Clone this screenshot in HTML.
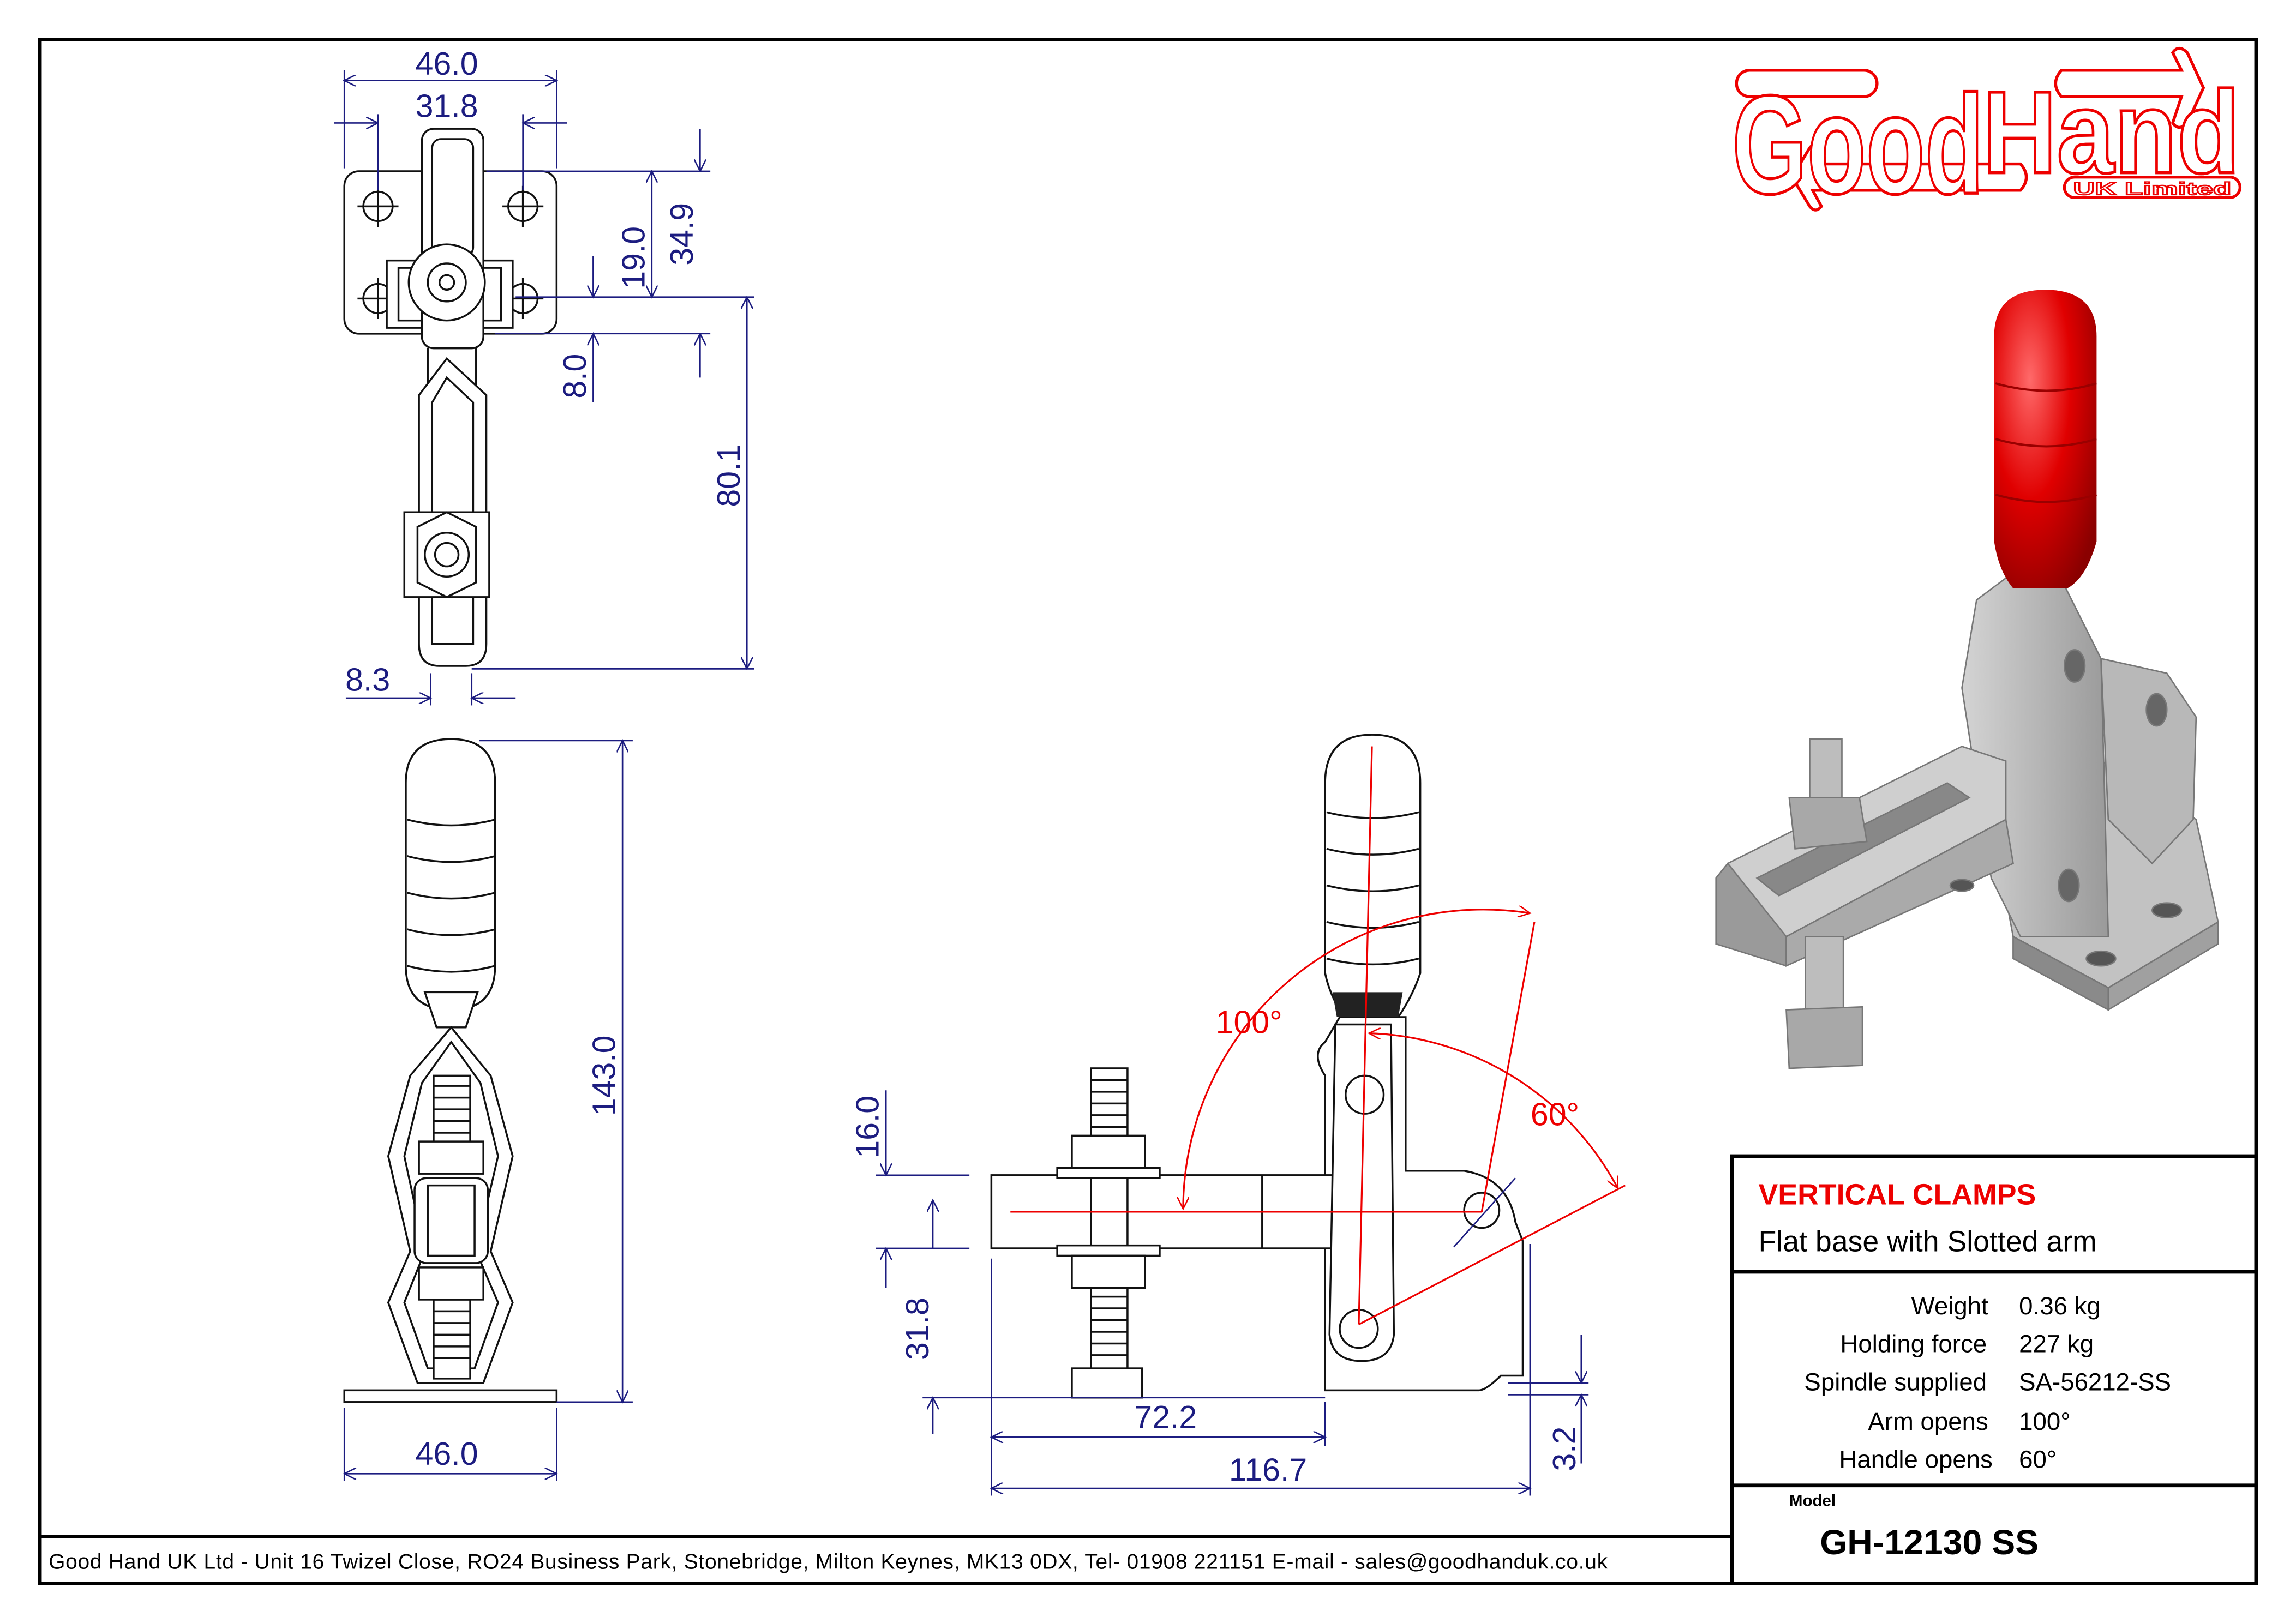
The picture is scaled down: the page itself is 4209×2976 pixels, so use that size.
<!DOCTYPE html>
<html><head><meta charset="utf-8"><style>
html,body{margin:0;padding:0;background:#fff}
svg{display:block}
text{font-family:"Liberation Sans",sans-serif}
.d{fill:#1c1c80;font-size:22px}
.dl{stroke:#1c1c80;stroke-width:1;fill:none}
.k{stroke:#111;stroke-width:1.3;fill:none}
.kf{stroke:#111;stroke-width:1.3;fill:#fff}
.r{stroke:#e00;stroke-width:1.2;fill:none}
</style></head><body>
<svg width="4209" height="2976" viewBox="0 0 1568 1109" xmlns="http://www.w3.org/2000/svg">
<defs>
<marker id="a" viewBox="0 0 10 10" refX="10" refY="5" markerWidth="14" markerHeight="8" orient="auto-start-reverse" markerUnits="userSpaceOnUse"><path d="M0,0 L10,5 L0,10" fill="none" stroke="#1c1c80" stroke-width="1.2"/></marker>
<marker id="ar" viewBox="0 0 10 10" refX="10" refY="5" markerWidth="14" markerHeight="8" orient="auto-start-reverse" markerUnits="userSpaceOnUse"><path d="M0,0 L10,5 L0,10" fill="none" stroke="#e00" stroke-width="1.2"/></marker>
<linearGradient id="g" x1="0" x2="1"><stop offset="0" stop-color="#d4d4d4"/><stop offset="1" stop-color="#9a9a9a"/></linearGradient>
<radialGradient id="rg" cx="0.35" cy="0.3" r="0.8"><stop offset="0" stop-color="#ff6a6a"/><stop offset="0.5" stop-color="#e00000"/><stop offset="1" stop-color="#8a0000"/></radialGradient>
</defs>
<rect width="1568" height="1109" fill="#fff"/>
<rect x="27" y="27" width="1514" height="1055" fill="none" stroke="#000" stroke-width="2.5"/>
<line x1="27" y1="1050" x2="1183" y2="1050" stroke="#000" stroke-width="2"/>
<rect x="1183" y="790" width="358" height="292" fill="none" stroke="#000" stroke-width="2.5"/>
<line x1="1183" y1="869" x2="1541" y2="869" stroke="#000" stroke-width="2.5"/>
<line x1="1183" y1="1015" x2="1541" y2="1015" stroke="#000" stroke-width="2.5"/>
<text x="33" y="1072" font-size="14.5" textLength="1065" lengthAdjust="spacing">Good Hand UK Ltd  - Unit 16 Twizel Close, RO24 Business Park, Stonebridge, Milton Keynes, MK13 0DX,  Tel- 01908 221151  E-mail - sales@goodhanduk.co.uk</text>
<text x="1201" y="823" font-size="20" font-weight="bold" fill="#e00">VERTICAL CLAMPS</text>
<text x="1201" y="855" font-size="20">Flat base with Slotted arm</text>
<g font-size="17">
<text x="1358" y="898" text-anchor="end">Weight</text><text x="1379" y="898">0.36 kg</text>
<text x="1357" y="924" text-anchor="end">Holding force</text><text x="1379" y="924">227 kg</text>
<text x="1357" y="950" text-anchor="end">Spindle supplied</text><text x="1379" y="950">SA-56212-SS</text>
<text x="1358" y="977" text-anchor="end">Arm opens</text><text x="1379" y="977">100°</text>
<text x="1361" y="1003" text-anchor="end">Handle opens</text><text x="1379" y="1003">60°</text>
</g>
<text x="1222" y="1029" font-size="11" font-weight="bold">Model</text>
<text x="1243" y="1062" font-size="24" font-weight="bold">GH-12130 SS</text>
<!-- logo -->
<g fill="#fff" stroke="#e00" stroke-width="2">
<rect x="1186" y="48" width="96" height="18" rx="9"/>
<path d="M1408,48 H1490 L1484,36 Q1488,30 1494,36 L1505,60 L1494,84 Q1488,90 1484,84 L1490,66 H1408 Q1400,57 1408,48Z"/>
<path d="M1238,112 H1380 Q1388,121 1380,130 H1238 L1244,141 Q1240,146 1236,141 L1224,121 L1236,101 Q1240,96 1244,101Z"/>
</g>
<text x="1183" y="132" font-size="96" font-weight="bold" fill="#fff" stroke="#e00" stroke-width="2" textLength="172" lengthAdjust="spacingAndGlyphs">Good</text>
<text x="1354" y="118" font-size="80" font-weight="bold" fill="#fff" stroke="#e00" stroke-width="2" textLength="176" lengthAdjust="spacingAndGlyphs">Hand</text>
<rect x="1410" y="121" width="120" height="14" rx="7" fill="#fff" stroke="#e00" stroke-width="2"/>
<text x="1416" y="133" font-size="12" font-weight="bold" fill="#fff" stroke="#e00" stroke-width="0.8" textLength="108" lengthAdjust="spacingAndGlyphs">UK Limited</text>

<!-- TOP VIEW -->
<g>
<rect x="235" y="117" width="145" height="111" rx="10" class="kf"/>
<g class="k">
<circle cx="258" cy="141" r="10"/><circle cx="357" cy="141" r="10"/><circle cx="258" cy="204" r="10"/><circle cx="357" cy="204" r="10"/>
<path d="M244,141h28M258,127v28M343,141h28M357,127v28M244,204h28M258,190v28M343,204h28M357,190v28"/>
</g>
<rect x="264" y="178" width="86" height="46" class="kf"/>
<rect x="272" y="183" width="70" height="36" class="kf"/>
<rect x="288" y="88" width="42" height="150" rx="8" class="kf"/>
<rect x="295" y="95" width="28" height="80" rx="6" class="k"/>
<circle cx="305" cy="193" r="26" class="kf"/>
<circle cx="305" cy="193" r="13" class="k"/><circle cx="305" cy="193" r="5" class="k"/>
<path d="M292,238 L292,272 L308,250 L325,272 L325,238" class="k"/>
<path d="M286,270 L305,245 L332,270 L332,440 Q332,455 318,455 L300,455 Q286,455 286,440Z" class="kf"/>
<path d="M295,275 L305,258 L323,275 L323,440 L295,440Z" class="k"/>
<rect x="276" y="350" width="58" height="58" class="kf"/>
<path d="M285,360 L305,350 L325,360 L325,398 L305,408 L285,398Z" class="k"/>
<circle cx="305" cy="379" r="15" class="kf"/><circle cx="305" cy="379" r="8" class="k"/>
</g>
<g class="dl">
<line x1="235" y1="48" x2="235" y2="115"/><line x1="380" y1="48" x2="380" y2="115"/>
<line x1="235" y1="55" x2="380" y2="55" marker-start="url(#a)" marker-end="url(#a)"/>
<line x1="258" y1="78" x2="258" y2="130"/><line x1="357" y1="78" x2="357" y2="130"/>
<line x1="228" y1="84" x2="258" y2="84" marker-end="url(#a)"/><line x1="387" y1="84" x2="357" y2="84" marker-end="url(#a)"/>
<line x1="332" y1="117" x2="485" y2="117"/><line x1="352" y1="203" x2="515" y2="203"/><line x1="338" y1="228" x2="485" y2="228"/>
<line x1="478" y1="88" x2="478" y2="117" marker-end="url(#a)"/><line x1="478" y1="258" x2="478" y2="228" marker-end="url(#a)"/>
<line x1="445" y1="117" x2="445" y2="203" marker-start="url(#a)" marker-end="url(#a)"/>
<line x1="405" y1="175" x2="405" y2="203" marker-end="url(#a)"/><line x1="405" y1="275" x2="405" y2="228" marker-end="url(#a)"/>
<line x1="510" y1="203" x2="510" y2="457" marker-start="url(#a)" marker-end="url(#a)"/>
<line x1="322" y1="457" x2="515" y2="457"/>
<line x1="294" y1="460" x2="294" y2="482"/><line x1="322" y1="460" x2="322" y2="482"/>
<line x1="236" y1="477" x2="294" y2="477" marker-end="url(#a)"/><line x1="352" y1="477" x2="322" y2="477" marker-end="url(#a)"/>
</g>
<text class="d" x="305" y="51" text-anchor="middle">46.0</text>
<text class="d" x="305" y="80" text-anchor="middle">31.8</text>
<text class="d" x="251" y="472" text-anchor="middle">8.3</text>
<text class="d" transform="translate(473,160) rotate(-90)" text-anchor="middle">34.9</text>
<text class="d" transform="translate(440,176) rotate(-90)" text-anchor="middle">19.0</text>
<text class="d" transform="translate(400,257) rotate(-90)" text-anchor="middle">8.0</text>
<text class="d" transform="translate(505,325) rotate(-90)" text-anchor="middle">80.1</text>

<!-- FRONT VIEW -->
<g>
<path d="M277,535 Q277,505 308,505 Q338,505 338,535 L338,660 Q338,690 308,690 Q277,690 277,660Z" class="kf"/>
<g class="k"><path d="M278,560q30,8 60,0M278,585q30,8 60,0M278,610q30,8 60,0M278,635q30,8 60,0M278,660q30,8 60,0"/></g>
<path d="M290,678 L326,678 L318,702 L298,702Z" class="kf"/>
<path d="M308,702 L280,735 L265,790 L280,855 L265,890 L285,945 L330,945 L350,890 L335,855 L350,790 L335,735Z" class="kf"/>
<path d="M308,712 L288,740 L276,790 L290,855 L276,890 L292,935 L324,935 L340,890 L325,855 L340,790 L328,740Z" class="k"/>
<rect x="296" y="735" width="25" height="50" class="kf"/>
<rect x="296" y="880" width="25" height="62" class="kf"/>
<g class="k"><path d="M296,742h25M296,750h25M296,758h25M296,766h25M296,774h25M296,888h25M296,896h25M296,904h25M296,912h25M296,920h25M296,928h25"/></g>
<rect x="286" y="780" width="44" height="22" class="kf"/>
<rect x="286" y="866" width="44" height="22" class="kf"/>
<rect x="283" y="805" width="50" height="58" rx="8" class="kf"/>
<rect x="292" y="810" width="32" height="48" class="k"/>
<rect x="235" y="950" width="145" height="8" class="kf"/>
</g>
<g class="dl">
<line x1="327" y1="506" x2="432" y2="506"/><line x1="380" y1="958" x2="432" y2="958"/>
<line x1="425" y1="506" x2="425" y2="958" marker-start="url(#a)" marker-end="url(#a)"/>
<line x1="235" y1="962" x2="235" y2="1012"/><line x1="380" y1="962" x2="380" y2="1012"/>
<line x1="235" y1="1007" x2="380" y2="1007" marker-start="url(#a)" marker-end="url(#a)"/>
</g>
<text class="d" x="305" y="1001" text-anchor="middle">46.0</text>
<text class="d" transform="translate(420,735) rotate(-90)" text-anchor="middle">143.0</text>

<!-- SIDE VIEW -->
<g>
<path d="M905,735 Q895,720 905,712 L915,695 L960,695 L960,800 L1000,800 Q1030,805 1035,835 L1040,848 L1040,940 L1025,940 Q1015,950 1010,950 L905,950Z" class="kf"/>
<rect x="677" y="803" width="233" height="50" class="kf"/>
<line x1="862" y1="803" x2="862" y2="853" class="k"/>
<rect x="745" y="730" width="25" height="225" class="kf"/>
<g class="k"><path d="M745,738h25M745,746h25M745,754h25M745,762h25M745,770h25M745,870h25M745,878h25M745,886h25M745,894h25M745,902h25M745,910h25M745,918h25M745,926h25"/></g>
<rect x="732" y="776" width="50" height="22" class="kf"/>
<rect x="722" y="798" width="70" height="7" class="kf"/>
<rect x="722" y="851" width="70" height="7" class="kf"/>
<rect x="732" y="858" width="50" height="22" class="kf"/>
<rect x="732" y="935" width="48" height="20" class="kf"/>
<path d="M912,700 L950,700 L952,912 Q950,930 930,930 Q910,930 908,912Z" class="kf"/>
<circle cx="932" cy="748" r="13" class="kf"/>
<circle cx="928" cy="908" r="13" class="kf"/>
<circle cx="1012" cy="827" r="12" class="kf"/>
<path d="M905,535 Q905,502 937,502 Q970,502 970,535 L970,665 Q965,680 955,695 L918,695 Q908,680 905,665Z" class="kf"/>
<g class="k"><path d="M906,555q32,8 63,0M906,580q32,8 63,0M906,605q32,8 63,0M906,630q32,8 63,0M906,655q32,8 63,0"/></g>
<path d="M910,678 L958,678 L955,695 L913,695Z" fill="#222"/>
<line x1="993" y1="852" x2="1035" y2="805" class="dl"/>
</g>
<g class="r">
<line x1="690" y1="828" x2="1012" y2="828"/>
<line x1="937" y1="510" x2="928" y2="905"/>
<line x1="1048" y1="630" x2="1012" y2="828"/>
<line x1="928" y1="905" x2="1110" y2="810"/>
<path d="M808,826 A205,205 0 0 1 1045,624" marker-start="url(#ar)" marker-end="url(#ar)"/>
<path d="M935,706 A200,200 0 0 1 1105,812" marker-start="url(#ar)" marker-end="url(#ar)"/>
</g>
<text x="853" y="706" font-size="22" fill="#e00" text-anchor="middle">100°</text>
<text x="1062" y="769" font-size="22" fill="#e00" text-anchor="middle">60°</text>
<g class="dl">
<line x1="598" y1="803" x2="662" y2="803"/><line x1="598" y1="853" x2="662" y2="853"/>
<line x1="605" y1="745" x2="605" y2="803" marker-end="url(#a)"/>
<line x1="637" y1="820" x2="637" y2="853" marker-start="url(#a)"/>
<line x1="605" y1="880" x2="605" y2="853" marker-end="url(#a)"/>
<line x1="630" y1="955" x2="905" y2="955"/>
<line x1="637" y1="980" x2="637" y2="955" marker-end="url(#a)"/>
<line x1="677" y1="860" x2="677" y2="1022"/><line x1="905" y1="958" x2="905" y2="988"/><line x1="1045" y1="850" x2="1045" y2="1022"/>
<line x1="677" y1="982" x2="905" y2="982" marker-start="url(#a)" marker-end="url(#a)"/>
<line x1="677" y1="1017" x2="1045" y2="1017" marker-start="url(#a)" marker-end="url(#a)"/>
<line x1="1030" y1="945" x2="1085" y2="945"/><line x1="1030" y1="953" x2="1085" y2="953"/>
<line x1="1080" y1="912" x2="1080" y2="945" marker-end="url(#a)"/><line x1="1080" y1="1000" x2="1080" y2="953" marker-end="url(#a)"/>
</g>
<text class="d" x="796" y="976" text-anchor="middle">72.2</text>
<text class="d" x="866" y="1012" text-anchor="middle">116.7</text>
<text class="d" transform="translate(600,770) rotate(-90)" text-anchor="middle">16.0</text>
<text class="d" transform="translate(634,908) rotate(-90)" text-anchor="middle">31.8</text>
<text class="d" transform="translate(1076,990) rotate(-90)" text-anchor="middle">3.2</text>

<!-- 3D render -->
<g stroke="#777" stroke-width="1">
<path d="M1360,560 L1440,520 L1500,560 L1515,630 L1440,675 L1375,640Z" fill="#c2c2c2"/>
<path d="M1375,640 L1440,675 L1440,690 L1375,655Z" fill="#8a8a8a"/>
<path d="M1440,675 L1515,630 L1515,645 L1440,690Z" fill="#a0a0a0"/>
<path d="M1435,450 L1480,460 L1500,490 L1498,560 L1470,590 L1440,560Z" fill="#b8b8b8"/>
<path d="M1350,410 L1370,395 L1410,400 L1435,450 L1440,640 L1380,640 L1360,600 L1340,470Z" fill="url(#g)"/>
<path d="M1180,590 L1340,510 L1370,520 L1370,560 L1220,640 L1180,625Z" fill="#cfcfcf"/>
<path d="M1172,600 L1180,590 L1220,640 L1220,660 L1172,645Z" fill="#9a9a9a"/>
<path d="M1220,640 L1370,560 L1375,590 L1220,660Z" fill="#aaaaaa"/>
<path d="M1200,600 L1330,535 L1345,545 L1215,612Z" fill="#888"/>
<rect x="1236" y="505" width="22" height="40" fill="#bdbdbd"/>
<path d="M1222,545 L1270,545 L1275,575 L1226,580Z" fill="#a8a8a8"/>
<rect x="1233" y="640" width="26" height="50" fill="#bdbdbd"/>
<path d="M1220,690 L1272,688 L1272,728 L1222,730Z" fill="#a8a8a8"/>
<ellipse cx="1417" cy="455" rx="7" ry="11" fill="#666"/>
<ellipse cx="1473" cy="485" rx="7" ry="11" fill="#666"/>
<ellipse cx="1413" cy="605" rx="7" ry="11" fill="#666"/>
<ellipse cx="1480" cy="622" rx="10" ry="5" fill="#555"/>
<ellipse cx="1435" cy="655" rx="10" ry="5" fill="#555"/>
<ellipse cx="1340" cy="605" rx="8" ry="4" fill="#555"/>
</g>
<path d="M1362,230 Q1362,198 1397,198 Q1432,198 1432,230 L1432,370 Q1425,395 1412,402 L1375,402 Q1365,390 1362,370Z" fill="url(#rg)"/>
<g stroke="#900" stroke-width="1.5" fill="none"><path d="M1363,262q35,10 69,0M1363,300q35,10 69,0M1363,338q35,10 69,0"/></g>
</svg>
</body></html>
